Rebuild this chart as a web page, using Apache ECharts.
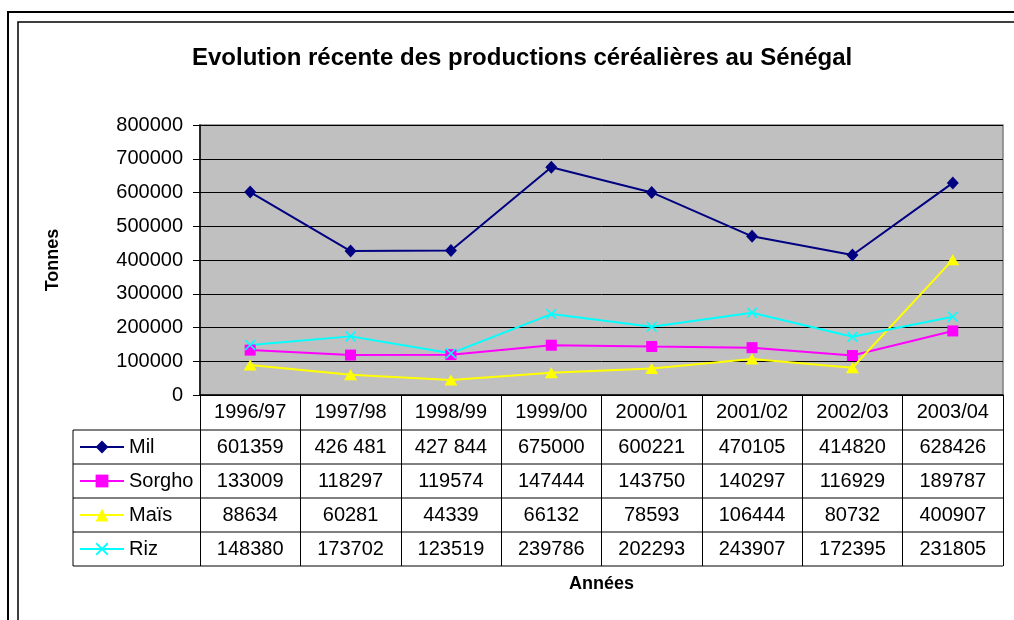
<!DOCTYPE html>
<html>
<head>
<meta charset="utf-8">
<script src="https://cdn.jsdelivr.net/npm/echarts@6/dist/echarts.min.js"></script>
<style>
  html, body { margin: 0; padding: 0; background: #fff; }
  #chart { width: 1014px; height: 620px; }
</style>
</head>
<body>
<div id="chart"></div>
<script>
// campagnes agricoles
const years = ['1996/97', '1997/98', '1998/99', '1999/00', '2000/01', '2001/02', '2002/03', '2003/04']
// productions en tonnes
const mil = [601359, 426481, 427844, 675000, 600221, 470105, 414820, 628426]
const sorgho = [133009, 118297, 119574, 147444, 143750, 140297, 116929, 189787]
const mais = [88634, 60281, 44339, 66132, 78593, 106444, 80732, 400907]
const riz = [148380, 173702, 123519, 239786, 202293, 243907, 172395, 231805]
// axe des tonnes
const yMin = 0
const yMax = 800000
const yStep = 100000

const font = '"Liberation Sans", Arial, sans-serif'
const crossPath = 'path://M1,0L5,4L9,0L10,1L6,5L10,9L9,10L5,6L1,10L0,9L4,5L0,1Z'

const seriesDefs = [
  { name: 'Mil', data: mil, color: '#000080', symbol: 'diamond', size: [12, 13] },
  { name: 'Sorgho', data: sorgho, color: '#ff00ff', symbol: 'rect', size: 11 },
  { name: 'Maïs', data: mais, color: '#ffff00', symbol: 'triangle', size: [13, 11] },
  { name: 'Riz', data: riz, color: '#00ffff', symbol: crossPath, size: 11 }
]

// Excel affiche deux valeurs du mil avec séparateur de milliers
const groupedMil = [1, 2]
function cellText(seriesIdx, i, v) {
  if (seriesIdx === 0 && groupedMil.indexOf(i) >= 0) {
    return String(v).replace(/\B(?=(\d{3})+(?!\d))/g, ' ')
  }
  return String(v)
}

const chart = echarts.init(document.getElementById('chart'))

// tableau de données sous le graphique
const plotLeft = 200
const plotRight = 1003
const tableLeft = 73
const rowTop = 430
const rowH = 34

chart.setOption({
  animation: false,
  textStyle: { fontFamily: font },
  title: {
    text: 'Evolution récente des productions céréalières au Sénégal',
    left: 187,
    top: 41,
    textStyle: { fontFamily: font, fontSize: 24, fontWeight: 'bold', color: '#000' }
  },
  legend: {
    orient: 'vertical',
    left: tableLeft + 6,
    top: rowTop + 7,
    itemWidth: 44,
    itemHeight: 16,
    itemGap: 14,
    selectedMode: false,
    padding: 0,
    textStyle: { fontFamily: font, fontSize: 20, color: '#000' },
    data: seriesDefs.map(s => s.name)
  },
  grid: {
    left: plotLeft,
    right: 1014 - plotRight,
    top: 125,
    bottom: 620 - 395,
    show: true,
    backgroundColor: '#c0c0c0',
    borderColor: '#808080',
    borderWidth: 1.5
  },
  xAxis: {
    type: 'category',
    data: years,
    boundaryGap: true,
    name: 'Années',
    nameLocation: 'middle',
    nameGap: 180,
    nameTextStyle: { fontFamily: font, fontSize: 18, fontWeight: 'bold', color: '#000' },
    axisLine: { lineStyle: { color: '#000', width: 1.5 } },
    axisTick: { show: true, length: rowTop - 395 + rowH * 4, lineStyle: { color: '#000', width: 1 } },
    axisLabel: { interval: 0, margin: 7, fontFamily: font, fontSize: 20, color: '#000' }
  },
  yAxis: {
    type: 'value',
    min: yMin,
    max: yMax,
    interval: yStep,
    name: 'Tonnes',
    nameLocation: 'middle',
    nameRotate: 90,
    nameGap: 138,
    nameTextStyle: { fontFamily: font, fontSize: 18, fontWeight: 'bold', color: '#000' },
    axisLine: { show: true, lineStyle: { color: '#000', width: 1.5 } },
    axisTick: { show: true, length: 7, lineStyle: { color: '#000' } },
    axisLabel: { margin: 17, fontFamily: font, fontSize: 20, color: '#000', formatter: v => String(v) },
    splitLine: { lineStyle: { color: '#000', width: 1 } }
  },
  series: seriesDefs.map(s => ({
    name: s.name,
    type: 'line',
    data: s.data,
    symbol: s.symbol,
    symbolSize: s.size,
    showSymbol: true,
    color: s.color,
    lineStyle: { color: s.color, width: 2 },
    itemStyle: { color: s.color }
  }))
})

// cellules du tableau, centrées sur les catégories de l'axe
const graphics = []
// cadres extérieurs
graphics.push({
  type: 'rect', silent: true,
  shape: { x: 8, y: 12, width: 1020, height: 620 },
  style: { fill: 'none', stroke: '#000', lineWidth: 2 }
})
graphics.push({
  type: 'rect', silent: true,
  shape: { x: 18, y: 22, width: 1010, height: 620 },
  style: { fill: 'none', stroke: '#000', lineWidth: 1.5 }
})
for (let r = 0; r <= 4; r++) {
  const y = rowTop + r * rowH
  graphics.push({
    type: 'line', silent: true,
    shape: { x1: tableLeft, y1: y, x2: plotRight, y2: y },
    style: { stroke: '#000', lineWidth: 1 }
  })
}
graphics.push({
  type: 'line', silent: true,
  shape: { x1: tableLeft, y1: rowTop, x2: tableLeft, y2: rowTop + rowH * 4 },
  style: { stroke: '#000', lineWidth: 1 }
})
seriesDefs.forEach((s, si) => {
  s.data.forEach((v, i) => {
    const x = chart.convertToPixel({ xAxisIndex: 0 }, i)
    graphics.push({
      type: 'text', silent: true,
      x: x,
      y: rowTop + si * rowH + rowH / 2,
      style: {
        text: cellText(si, i, v),
        font: '20px ' + font,
        fill: '#000',
        align: 'center',
        verticalAlign: 'middle'
      }
    })
  })
})
chart.setOption({ graphic: graphics })
</script>
</body>
</html>
